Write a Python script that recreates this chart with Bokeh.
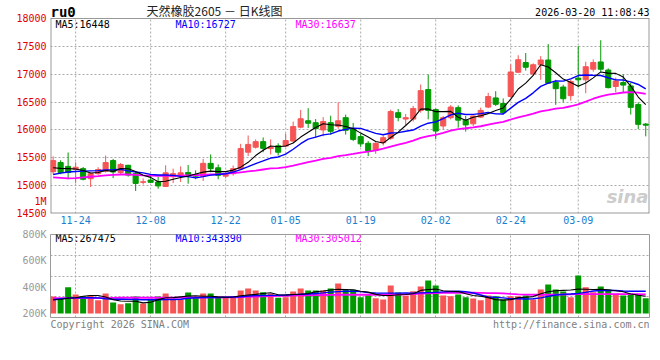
from bokeh.plotting import figure
from bokeh.models import ColumnDataSource, FixedTicker, Label, Range1d
from bokeh.layouts import column
from bokeh.embed import file_html
from bokeh.resources import INLINE

symbol = "ru0"
title_text = "天然橡胶2605 － 日K线图"
stamp = "2026-03-20 11:08:43"
price_ma_labels = ["MA5:16448", "MA10:16727", "MA30:16637"]
vol_ma_labels = ["MA5:267475", "MA10:343390", "MA30:305012"]
copyright_text = "Copyright 2026 SINA.COM"
url_text = "http://finance.sina.com.cn"

date_index = [3, 13, 23, 31, 41, 51, 61, 70]
date_labels = ["11-24", "12-08", "12-22", "01-05", "01-19", "02-02", "02-24", "03-09"]
price_ticks = [14500, 15000, 15500, 16000, 16500, 17000, 17500, 18000]
unit_tick, unit_label = 14715, "1M"
vol_ticks = [200000, 400000, 600000, 800000]
vol_tick_labels = ["200K", "400K", "600K", "800K"]

opens = [15250, 15415, 15345, 15290, 15305, 15125, 15215, 15260, 15450, 15235,
         15365, 15215, 15060, 15100, 15065, 14985, 15160, 15185, 15235, 15200,
         15170, 15400, 15320, 15170, 15215, 15300, 15600, 15690, 15790, 15665,
         15715, 15710, 15800, 16050, 16165, 16130, 16000, 16130, 16065, 16220,
         16020, 15880, 15760, 15630, 15770, 15850, 16310, 16195, 16195, 16350,
         16725, 16365, 16070, 16220, 16400, 16175, 16110, 16230, 16410, 16575,
         16475, 16600, 17035, 17210, 17005, 17170, 17255, 16855, 16770, 16615,
         16930, 16900, 17090, 17220, 17075, 16780, 16850, 16790, 16455, 16105]
highs = [15525, 15455, 15595, 15420, 15335, 15235, 15330, 15540, 15480, 15405,
         15375, 15260, 15130, 15185, 15160, 15365, 15305, 15345, 15370, 15275,
         15480, 15560, 15380, 15215, 15360, 15750, 15900, 15830, 15865, 15830,
         15760, 15935, 16150, 16360, 16390, 16195, 16230, 16255, 16495, 16275,
         16125, 15935, 15800, 15780, 15900, 16365, 16375, 16285, 16430, 16815,
         16995, 16385, 16250, 16445, 16440, 16250, 16260, 16400, 16665, 16695,
         16565, 17175, 17340, 17380, 17195, 17325, 17540, 16900, 16810, 16900,
         17505, 17225, 17265, 17610, 17105, 16940, 17000, 16850, 16495, 16125]
lows = [15205, 15205, 15115, 15045, 15095, 14975, 15195, 15235, 15135, 15190,
        15160, 14905, 15020, 15050, 14945, 14975, 15045, 15065, 15035, 15115,
        15085, 15240, 15115, 15130, 15180, 15280, 15530, 15665, 15600, 15560,
        15540, 15690, 15770, 16030, 16035, 15860, 15885, 15915, 16020, 15915,
        15800, 15695, 15530, 15570, 15720, 15825, 16155, 16080, 16150, 16310,
        16190, 15835, 16010, 16190, 16040, 15970, 16070, 16215, 16390, 16430,
        16280, 16580, 17020, 17065, 16970, 16900, 16830, 16450, 16495, 16525,
        16765, 16660, 17045, 17045, 16745, 16670, 16670, 16275, 16015, 15885]
closes = [15450, 15235, 15235, 15330, 15115, 15215, 15290, 15415, 15245, 15380,
          15190, 15040, 15070, 15060, 14995, 15230, 15215, 15230, 15200, 15170,
          15400, 15305, 15185, 15200, 15305, 15665, 15740, 15790, 15670, 15690,
          15600, 15810, 16060, 16200, 16120, 16025, 16150, 15975, 16165, 15995,
          15830, 15750, 15620, 15760, 15860, 16330, 16225, 16220, 16385, 16705,
          16350, 15980, 16220, 16410, 16175, 16090, 16250, 16350, 16600, 16460,
          16310, 17040, 17260, 17125, 17170, 17255, 16840, 16740, 16560, 16870,
          16900, 17135, 17210, 17090, 16760, 16880, 16805, 16405, 16100, 16085]

ma5 = [15320, 15310, 15305, 15300, 15273, 15226, 15237, 15273, 15256, 15309,
       15304, 15254, 15185, 15148, 15071, 15079, 15114, 15146, 15174, 15209,
       15243, 15261, 15252, 15252, 15279, 15332, 15419, 15540, 15634, 15711,
       15698, 15712, 15766, 15872, 15958, 16043, 16111, 16094, 16087, 16062,
       16023, 15943, 15872, 15791, 15764, 15864, 15959, 16079, 16204, 16373,
       16377, 16328, 16328, 16333, 16227, 16175, 16229, 16255, 16293, 16350,
       16394, 16552, 16734, 16839, 16981, 17170, 17130, 17026, 16913, 16853,
       16782, 16841, 16935, 17041, 17019, 17015, 16949, 16788, 16590, 16455]
ma10 = [15200, 15225, 15245, 15255, 15260, 15265, 15270, 15280, 15285, 15291,
        15265, 15246, 15229, 15202, 15190, 15192, 15184, 15166, 15161, 15140,
        15161, 15188, 15199, 15213, 15244, 15288, 15340, 15396, 15443, 15495,
        15515, 15566, 15653, 15753, 15835, 15871, 15912, 15930, 15980, 16010,
        16033, 16027, 15983, 15939, 15913, 15944, 15951, 15976, 15998, 16069,
        16121, 16144, 16204, 16269, 16300, 16276, 16279, 16292, 16313, 16289,
        16285, 16391, 16495, 16566, 16666, 16782, 16841, 16880, 16876, 16917,
        16976, 16986, 16981, 16977, 16936, 16899, 16895, 16862, 16816, 16737]
ma30 = [15150, 15140, 15130, 15135, 15150, 15160, 15170, 15185, 15195, 15200,
        15200, 15195, 15185, 15180, 15175, 15175, 15175, 15180, 15185, 15190,
        15195, 15200, 15205, 15215, 15225, 15240, 15255, 15270, 15290, 15309,
        15314, 15333, 15360, 15389, 15423, 15450, 15479, 15497, 15528, 15548,
        15570, 15593, 15612, 15635, 15664, 15701, 15734, 15767, 15807, 15858,
        15890, 15912, 15947, 15987, 16016, 16030, 16047, 16066, 16097, 16122,
        16146, 16187, 16227, 16258, 16293, 16334, 16357, 16382, 16396, 16425,
        16460, 16507, 16560, 16604, 16634, 16652, 16672, 16678, 16668, 16648]

volumes = [329000, 306000, 399000, 344000, 331000, 336000, 301000, 352000, 283000, 270000,
           278000, 329000, 275000, 311000, 329000, 352000, 306000, 306000, 359000, 319000,
           352000, 352000, 323000, 319000, 319000, 374000, 390000, 374000, 361000, 349000,
           319000, 323000, 367000, 390000, 374000, 374000, 374000, 390000, 427000, 380000,
           380000, 323000, 338000, 316000, 306000, 412000, 359000, 334000, 369000, 405000,
           450000, 412000, 336000, 331000, 344000, 323000, 313000, 301000, 336000, 331000,
           306000, 331000, 331000, 336000, 306000, 382000, 420000, 382000, 367000, 323000,
           488000, 399000, 361000, 405000, 380000, 349000, 336000, 349000, 344000, 316000]
vma5 = [304000, 306000, 316000, 319000, 330000, 336000, 336000, 325000, 304000, 295000,
        293000, 292000, 280000, 285000, 305000, 319000, 320000, 326000, 332000, 334000,
        331000, 331000, 326000, 323000, 325000, 334000, 340000, 345000, 352000, 357000,
        342000, 340000, 344000, 346000, 352000, 365000, 370000, 378000, 384000, 382000,
        380000, 369000, 362000, 345000, 336000, 336000, 342000, 344000, 350000, 375000,
        382000, 385000, 372000, 369000, 366000, 350000, 336000, 330000, 320000, 305000,
        301000, 305000, 320000, 323000, 328000, 350000, 365000, 372000, 375000, 378000,
        385000, 384000, 382000, 383000, 380000, 372000, 365000, 348000, 338000, 331000]
vma10 = [304000, 312000, 316000, 319000, 319000, 319000, 318000, 312000, 308000, 308000,
         307000, 306000, 304000, 304000, 304000, 305000, 306000, 308000, 315000, 319000,
         320000, 320000, 321000, 323000, 325000, 327000, 332000, 335000, 336000, 337000,
         338000, 340000, 343000, 346000, 348000, 352000, 356000, 362000, 366000, 369000,
         369000, 366000, 358000, 355000, 354000, 354000, 354000, 355000, 354000, 356000,
         358000, 360000, 364000, 367000, 368000, 366000, 355000, 340000, 325000, 322000,
         318000, 312000, 311000, 310000, 312000, 318000, 330000, 340000, 345000, 348000,
         352000, 360000, 370000, 374000, 375000, 374000, 370000, 369000, 369000, 368000]
vma30 = [316000, 316000, 316000, 316000, 316000, 317000, 317000, 317000, 318000, 319000,
         319000, 319000, 319000, 319000, 319000, 319000, 319000, 320000, 321000, 321000,
         321000, 322000, 322000, 322000, 323000, 324000, 326000, 328000, 330000, 332000,
         333000, 334000, 335000, 337000, 338000, 339000, 340000, 341000, 342000, 342000,
         342000, 342000, 342000, 342000, 342000, 343000, 344000, 345000, 347000, 350000,
         353000, 355000, 356000, 357000, 357000, 357000, 357000, 356000, 355000, 354000,
         352000, 348000, 345000, 343000, 342000, 342000, 342000, 343000, 344000, 345000,
         346000, 346000, 346000, 346000, 346000, 346000, 346000, 346000, 346000, 345000]

RED = "#f65555"
GREEN = "#009900"
GRID = "#aaaaaa"
BORDER = "#999999"
MONO = "DejaVu Sans Mono"

idx = list(range(len(closes)))
colors = [RED if c >= o else GREEN for o, c in zip(opens, closes)]
src = ColumnDataSource(dict(
    x=idx, open=opens, high=highs, low=lows, close=closes,
    top=[max(o, c) for o, c in zip(opens, closes)],
    bottom=[min(o, c) for o, c in zip(opens, closes)],
    color=colors, volume=volumes,
))

W = 660
FRAME_L, FRAME_R = 50, 649          # page pixels of the plot frames
X0, X1 = -0.35, 79.5
x_rng = Range1d(X0, X1)


def style_fig(p):
    p.background_fill_color = "white"
    p.border_fill_color = "white"
    for ax in p.axis:
        ax.major_tick_out = 0
        ax.major_tick_in = 0
        ax.minor_tick_out = 0
        ax.minor_tick_in = 0
        ax.axis_line_color = None
        ax.major_label_text_font = MONO
        ax.major_label_text_font_size = "10px"
    for g in list(p.xgrid) + list(p.ygrid):
        g.grid_line_color = GRID
        g.grid_line_dash = "2 2"
        g.grid_line_width = 1


def text_strip(top, height):
    """A plain strip whose frame lines up with the plot frames, for footer texts."""
    f = figure(width=W, height=height, x_range=Range1d(FRAME_L, FRAME_R),
               y_range=Range1d(top + height, top),
               output_backend="svg", toolbar_location=None,
               min_border_left=FRAME_L, min_border_right=W - FRAME_R,
               min_border_top=0, min_border_bottom=0)
    f.axis.visible = False
    f.grid.visible = False
    f.outline_line_color = None
    f.background_fill_color = "white"
    f.border_fill_color = "white"

    def put(X, Y, text, color="black", size="10px", font=MONO, align="left", style="normal"):
        f.add_layout(Label(x=X, y=Y, text=text, text_color=color, text_font_size=size,
                           text_font=font, text_align=align, text_baseline="middle",
                           text_font_style=style))
    return f, put


def make_put(p, ftop, fbot, ylo, yhi):
    """Place a text at page pixel (X, Y) inside a plot frame using its own scales."""
    def put(X, Y, text, color="black", size="10px", font=MONO,
            align="left", style="normal"):
        xd = X0 + (X - FRAME_L) * (X1 - X0) / (FRAME_R - FRAME_L)
        yd = ylo + (fbot - Y) * (yhi - ylo) / (fbot - ftop)
        p.add_layout(Label(x=xd, y=yd, text=text, text_color=color, text_font_size=size,
                           text_font=font, text_align=align, text_baseline="middle",
                           text_font_style=style))
    return put


# ---------------- price panel (its frame also holds the header line) ----------------
P_LO, P_HI = price_ticks[0], price_ticks[-1]
P_FTOP, P_FBOT = 18, 213                 # page rows of 18000 and 14500
P_TOP = P_HI + P_FTOP * (P_HI - P_LO) / (P_FBOT - P_FTOP)
p1 = figure(width=W, height=228, x_range=x_rng, y_range=Range1d(P_LO, P_TOP),
            output_backend="svg", toolbar_location=None,
            min_border_left=FRAME_L, min_border_right=W - FRAME_R,
            min_border_top=0, min_border_bottom=15)
p1.outline_line_color = None
p1.xaxis.ticker = FixedTicker(ticks=date_index)
p1.xaxis.major_label_overrides = {i: l for i, l in zip(date_index, date_labels)}
p1.xaxis.major_label_text_color = "#1a80d0"
p1.xaxis.major_label_standoff = 2
p1.yaxis.ticker = FixedTicker(ticks=price_ticks + [unit_tick])
p1.yaxis.major_label_overrides = {unit_tick: unit_label}
p1.yaxis.major_label_text_color = "#e00000"
p1.yaxis.major_label_standoff = 4
p1.ygrid.ticker = FixedTicker(ticks=price_ticks)
style_fig(p1)
p1.xgrid.visible = False
# vertical date grid lines, only inside the price box
p1.segment(x0=date_index, y0=[P_LO] * len(date_index), x1=date_index, y1=[P_HI] * len(date_index),
           line_color=GRID, line_dash="2 2", line_width=1)
# price box border
p1.segment(x0=[X0, X1, X0], y0=[P_LO, P_LO, P_LO], x1=[X0, X1, X1], y1=[P_HI, P_HI, P_LO],
           line_color=BORDER, line_width=2)
p1.segment(x0=[X0], y0=[P_HI], x1=[X1], y1=[P_HI], line_color=BORDER, line_width=1)

p1.segment(x0="x", y0="low", x1="x", y1="high", line_color="color", line_width=1, source=src)
p1.vbar(x="x", width=0.68, top="top", bottom="bottom", fill_color="color",
        line_color="color", line_width=1, source=src)
p1.line(idx, ma30, line_color="#ff00ff", line_width=1.8)
p1.line(idx, ma10, line_color="#0000ff", line_width=1.4)
p1.line(idx, ma5, line_color="#000000", line_width=1.1)

put1 = make_put(p1, P_FTOP, P_FBOT, P_LO, P_HI)
put1(50, 11, symbol, size="14px", style="bold")
put1(214, 10, title_text, color="#222222", size="12px", font="Noto Sans CJK SC", align="center")
put1(649, 11.5, stamp, align="right")
put1(55, 24, price_ma_labels[0], color="black")
put1(175, 24, price_ma_labels[1], color="#0000ff")
put1(295, 24, price_ma_labels[2], color="#ff00ff")
put1(648, 196, "sina", color="#cccccc", size="18px", font="DejaVu Sans",
     align="right", style="bold italic")

# ---------------- volume panel ----------------
V_LO, V_HI = 169000, vol_ticks[-1]
p2 = figure(width=W, height=91, x_range=x_rng, y_range=Range1d(V_LO, V_HI),
            output_backend="svg", toolbar_location=None,
            min_border_left=FRAME_L, min_border_right=W - FRAME_R,
            min_border_top=6, min_border_bottom=2)
p2.outline_line_color = BORDER
p2.outline_line_width = 1
p2.xaxis.visible = False
p2.yaxis.ticker = FixedTicker(ticks=vol_ticks)
p2.yaxis.major_label_overrides = {v: l for v, l in zip(vol_ticks, vol_tick_labels)}
p2.yaxis.major_label_text_color = "#999999"
p2.yaxis.major_label_standoff = 4
p2.xgrid.ticker = FixedTicker(ticks=date_index)
p2.ygrid.ticker = FixedTicker(ticks=[330000, 480000, 640000])
style_fig(p2)

p2.vbar(x="x", width=0.8, top="volume", bottom=vol_ticks[0], fill_color="color",
        line_color=None, source=src)
p2.line(idx, vma30, line_color="#ff00ff", line_width=1.8)
p2.line(idx, vma10, line_color="#0000ff", line_width=1.4)
p2.line(idx, vma5, line_color="#000000", line_width=1.1)

put2 = make_put(p2, 234, 317, V_LO, V_HI)
put2(55, 238, vol_ma_labels[0], color="black")
put2(175, 238, vol_ma_labels[1], color="#0000ff")
put2(295, 238, vol_ma_labels[2], color="#ff00ff")

# ---------------- footer ----------------
p3, put3 = text_strip(319, 17)
put3(50, 324, copyright_text, color="#808080")
put3(649, 324, url_text, color="#808080", align="right")

layout = column(p1, p2, p3, spacing=0)
open("out.html", "w").write(file_html(layout, INLINE))
